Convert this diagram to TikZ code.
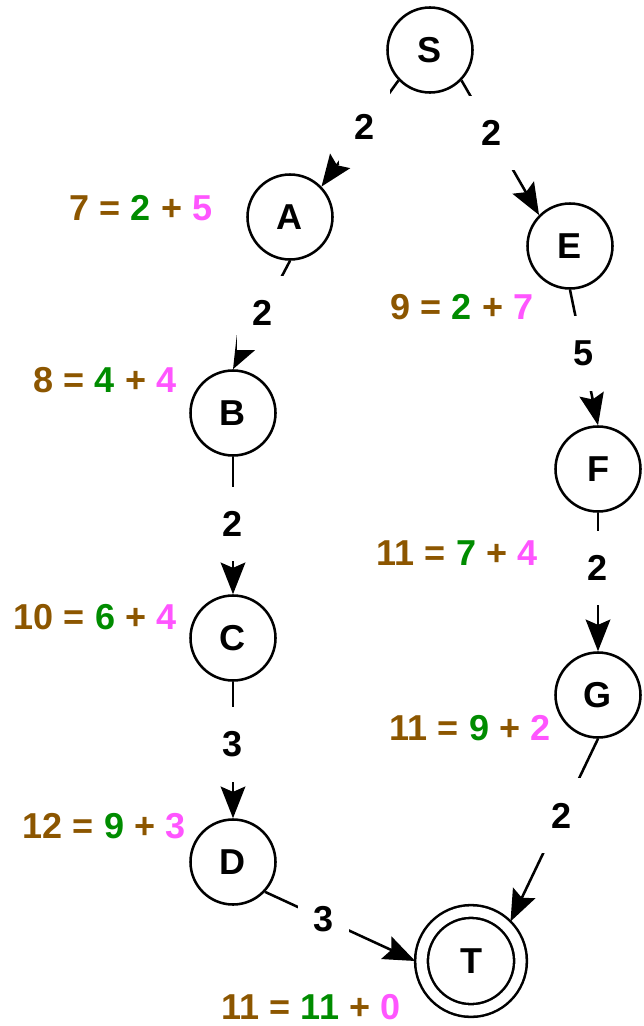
\documentclass[tikz,border=0pt]{standalone}
\usepackage{fontspec}
\setmainfont{Liberation Sans}
\usetikzlibrary{arrows.meta}
\definecolor{costbrown}{RGB}{140,86,0}
\definecolor{costgreen}{RGB}{0,140,0}
\definecolor{costpink}{RGB}{255,85,255}
\newcommand{\costlabel}[3]{\textcolor{costbrown}{#1 =} \textcolor{costgreen}{#2} \textcolor{costbrown}{+} \textcolor{costpink}{#3}}
\tikzset{
  state/.style  = {draw, circle, line width=1.45pt, minimum size=1.7cm, inner sep=0pt,
                   font=\fontsize{20.5}{24}\selectfont\bfseries},
  final/.style  = {state, double, double distance=5.8pt, minimum size=1.98cm, outer sep=3.6pt},
  weight/.style = {fill=white, inner xsep=9pt, inner ysep=14pt,
                   font=\fontsize{20.5}{24}\selectfont\bfseries},
  cost/.style   = {font=\fontsize{20.5}{24}\selectfont\bfseries},
  arrow/.style  = {-{Stealth[length=18pt, width=14pt, inset=3pt]}, line width=1.45pt},
}

\begin{document}
\begin{tikzpicture}[x=0.2mm, y=-0.2mm]
  \useasboundingbox (0,0) rectangle (643,1026);
  % states
  \node[state] (S) at (430,50)  {S};
  \node[state] (A) at (290,217) {A};
  \node[state] (E) at (570,246) {E};
  \node[state] (B) at (233,413) {B};
  \node[state] (F) at (598,469) {F};
  \node[state] (C) at (233,638) {C};
  \node[state] (G) at (598,695) {G};
  \node[state] (D) at (233,862) {D};
  \node[final] (T) at (471,961) {T};
  % costs
  \node[cost] (cA) at (141,208)  {\costlabel{7}{2}{5}};
  \node[cost] (cE) at (462,307)  {\costlabel{9}{2}{7}};
  \node[cost] (cB) at (105,380)  {\costlabel{8}{4}{4}};
  \node[cost] (cF) at (457,553)  {\costlabel{11}{7}{4}};
  \node[cost] (cC) at (95,617)   {\costlabel{10}{6}{4}};
  \node[cost] (cG) at (470,728)  {\costlabel{11}{9}{2}};
  \node[cost] (cD) at (104,826)  {\costlabel{12}{9}{3}};
  \node[cost] (cT) at (311,1007) {\costlabel{11}{11}{0}};
  % edges
  \draw[arrow] (S.224) -- node[weight, pos=.44] {2} (A.44);
  \draw[arrow] (S.316) -- node[weight, pos=.39] {2} (E.135);
  \draw[arrow] (A.south) -- node[weight, pos=.48] {2} (B.north);
  \draw[arrow] (E.south) -- node[weight, pos=.47] {5} (F.north);
  \draw[arrow] (B.south) -- node[weight, pos=.49] {2} (C.north);
  \draw[arrow] (F.south) -- node[weight, pos=.40] {2} (G.north);
  \draw[arrow] (C.south) -- node[weight, pos=.46] {3} (D.north);
  \draw[arrow] (G.south) -- node[weight, pos=.42] {2} (T.45);
  \draw[arrow] (D.-43) -- node[weight, pos=.39] {3} (T.west);
\end{tikzpicture}
\end{document}
